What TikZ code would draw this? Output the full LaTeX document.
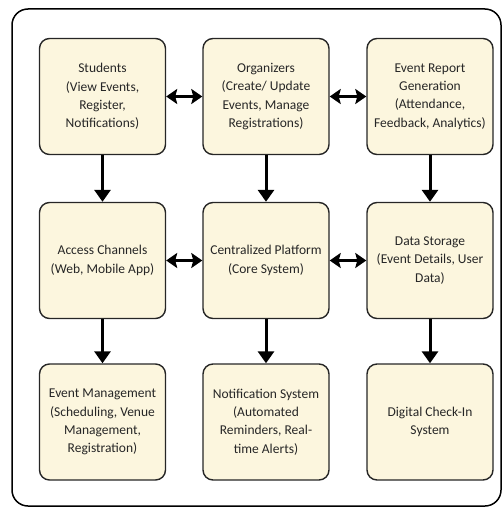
\documentclass[tikz,border=0pt]{standalone}
\usepackage{fontspec}
\setmainfont{Carlito}
\usetikzlibrary{arrows.meta}
\definecolor{boxfill}{RGB}{252,246,222}
\begin{document}
\begin{tikzpicture}[x=1pt,y=-1pt,
  blk/.style={draw=black!85, line width=1.4pt, fill=boxfill, rounded corners=10pt,
    minimum width=126pt, minimum height=116pt, align=center, inner sep=2pt,
    font=\fontsize{13.5}{18.3}\selectfont, text=black!85},
  flow/.style={line width=3pt, -{Triangle[width=16pt,length=12pt]}},
  both/.style={line width=3pt, {Stealth[width=15pt,length=11pt,inset=2pt]}-{Stealth[width=15pt,length=11pt,inset=2pt]}}]
\useasboundingbox (0,0) rectangle (502,508);
\draw[line width=1.5pt, rounded corners=16pt] (12,9) rectangle (501,506);
% row 1
\node[blk] (stu) at (102.5,96.5) {Students\\(View Events,\\Register,\\Notifications)};
\node[blk] (org) at (266,96.5) {Organizers\\(Create/ Update\\Events, Manage\\Registrations)};
\node[blk] (rep) at (430,96.5) {Event Report\\Generation\\(Attendance,\\Feedback, Analytics)};
% row 2
\node[blk] (acc) at (102.5,260.5) {Access Channels\\(Web, Mobile App)};
\node[blk] (cen) at (266,260.5) {Centralized Platform\\(Core System)};
\node[blk] (dat) at (430,260.5) {Data Storage\\(Event Details, User\\Data)};
% row 3
\node[blk] (evm) at (102.5,422) {Event Management\\(Scheduling, Venue\\Management,\\Registration)};
\node[blk] (not) at (266,422) {Notification System\\(Automated\\Reminders, Real-\\time Alerts)};
\node[blk] (chk) at (430,422) {Digital Check-In\\System};
% horizontal double arrows
\draw[both] (stu) -- (org);
\draw[both] (org) -- (rep);
\draw[both] (acc) -- (cen);
\draw[both] (cen) -- (dat);
% vertical arrows
\draw[flow] (stu) -- (acc);
\draw[flow] (org) -- (cen);
\draw[flow] (rep) -- (dat);
\draw[flow] (acc) -- (evm);
\draw[flow] (cen) -- (not);
\draw[flow] (dat) -- (chk);
\end{tikzpicture}
\end{document}
